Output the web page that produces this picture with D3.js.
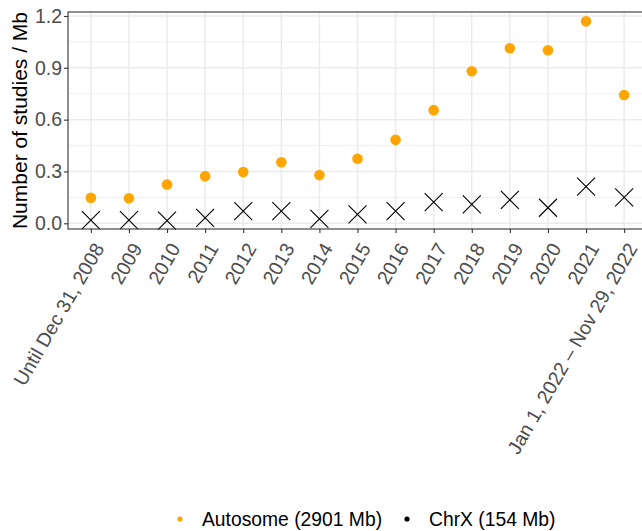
<!DOCTYPE html>
<html>
<head>
<meta charset="utf-8">
<script src="https://cdn.jsdelivr.net/npm/d3@7"></script>
<style>
  body { margin: 0; background: #fff; }
  text { font-family: "Liberation Sans", Arial, sans-serif; }
</style>
</head>
<body>
<script>
// categories along x
var periods = ["Until Dec 31, 2008", "2009", "2010", "2011", "2012", "2013", "2014",
    "2015", "2016", "2017", "2018", "2019", "2020", "2021", "Jan 1, 2022 \u2013 Nov 29, 2022"];

// studies per Mb
var autosome = [0.148, 0.145, 0.225, 0.273, 0.297, 0.353, 0.279, 0.374, 0.483, 0.655, 0.880, 1.013, 1.002, 1.169, 0.743];
var chrX = [0.019, 0.019, 0.015, 0.032, 0.071, 0.071, 0.025, 0.052, 0.071, 0.123, 0.110, 0.135, 0.090, 0.212, 0.150];

var yTicks = [0.0, 0.3, 0.6, 0.9, 1.2];
var yMinor = [0.15, 0.45, 0.75, 1.05];
var legendLabels = ["Autosome (2901 Mb)", "ChrX (154 Mb)"];
var legendColors = ["orange", "black"];

var width = 642, height = 531;
var margin = {left: 68, top: 12, right: -5, bottom: 302};

var svg = d3.select("body").append("svg")
    .attr("width", width)
    .attr("height", height);

var pw = width - margin.left - margin.right;
var ph = height - margin.top - margin.bottom;

var g = svg.append("g")
    .attr("transform", "translate(" + margin.left + "," + margin.top + ")");

// discrete scale with ggplot's 0.6 padding on each side
var x = d3.scalePoint()
    .domain(periods)
    .range([0, pw])
    .padding(0.6);

var y = d3.scaleLinear()
    .domain([-0.033, 1.223])
    .range([ph, 0]);

// grid
g.selectAll(".minor").data(yMinor).enter().append("line")
    .attr("x1", 0).attr("x2", pw)
    .attr("y1", function(d) { return y(d); })
    .attr("y2", function(d) { return y(d); })
    .attr("stroke", "#ebebeb").attr("stroke-width", 0.8);

g.selectAll(".majorY").data(yTicks).enter().append("line")
    .attr("x1", 0).attr("x2", pw)
    .attr("y1", function(d) { return y(d); })
    .attr("y2", function(d) { return y(d); })
    .attr("stroke", "#ebebeb").attr("stroke-width", 1.5);

g.selectAll(".majorX").data(periods).enter().append("line")
    .attr("y1", 0).attr("y2", ph)
    .attr("x1", function(d) { return x(d); })
    .attr("x2", function(d) { return x(d); })
    .attr("stroke", "#ebebeb").attr("stroke-width", 1.5);

// points
g.selectAll(".auto").data(autosome).enter().append("circle")
    .attr("cx", function(d, i) { return x(periods[i]); })
    .attr("cy", function(d) { return y(d); })
    .attr("r", 5.3)
    .attr("fill", "orange");

var s = 9;
g.selectAll(".chrx").data(chrX).enter().append("path")
    .attr("d", function(d, i) {
        var cx = x(periods[i]), cy = y(d);
        return "M" + (cx - s) + "," + (cy - s) + "L" + (cx + s) + "," + (cy + s) +
            "M" + (cx - s) + "," + (cy + s) + "L" + (cx + s) + "," + (cy - s);
    })
    .attr("stroke", "black")
    .attr("stroke-width", 1.1)
    .attr("fill", "none");

// panel border
g.append("rect")
    .attr("width", pw).attr("height", ph)
    .attr("fill", "none")
    .attr("stroke", "#333")
    .attr("stroke-width", 1.1);

// y axis
var yAxis = g.append("g")
    .call(d3.axisLeft(y).tickValues(yTicks).tickSize(4).tickPadding(2)
        .tickFormat(d3.format(".1f")));
yAxis.select(".domain").remove();
yAxis.selectAll(".tick line").attr("stroke", "#333").attr("stroke-width", 1.1);
yAxis.selectAll(".tick text")
    .attr("fill", "#4d4d4d")
    .style("font-size", "19.5px")
    .style("font-family", "Liberation Sans, Arial, sans-serif");

// x axis
var xAxis = g.append("g")
    .attr("transform", "translate(0," + ph + ")")
    .call(d3.axisBottom(x).tickSize(4).tickPadding(2));
xAxis.select(".domain").remove();
xAxis.selectAll(".tick line").attr("stroke", "#333").attr("stroke-width", 1.1);
xAxis.selectAll(".tick text")
    .attr("fill", "#4d4d4d")
    .style("font-size", "19.5px")
    .style("font-family", "Liberation Sans, Arial, sans-serif")
    .attr("text-anchor", "end")
    .attr("dy", null)
    .attr("y", 0)
    .attr("transform", "translate(1,12) rotate(-60)")
    .attr("dominant-baseline", "hanging");

// y title
svg.append("text")
    .attr("transform", "translate(27," + (margin.top + ph / 2) + ") rotate(-90)")
    .attr("text-anchor", "middle")
    .style("font-size", "21px")
    .attr("fill", "black")
    .text("Number of studies / Mb");

// legend
var leg = svg.append("g").attr("transform", "translate(0,519)");
var legX = [180, 407];
legendLabels.forEach(function(lab, i) {
    leg.append("circle")
        .attr("cx", legX[i]).attr("cy", 0).attr("r", 2.6)
        .attr("fill", legendColors[i]);
    leg.append("text")
        .attr("x", legX[i] + 22).attr("y", 0)
        .attr("dy", "0.35em")
        .style("font-size", "19.3px")
        .attr("fill", "black")
        .text(lab);
});
</script>
</body>
</html>
